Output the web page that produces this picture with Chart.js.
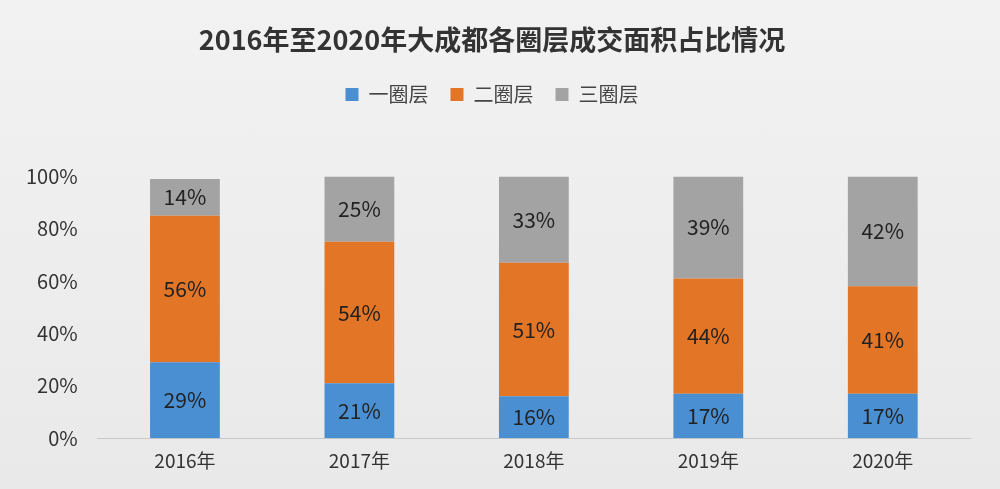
<!DOCTYPE html>
<html>
<head>
<meta charset="utf-8">
<script src="https://cdn.jsdelivr.net/npm/chart.js@4"></script>
<style>
  html, body { margin: 0; padding: 0; }
  body { width: 1000px; height: 489px; background: linear-gradient(#f2f2f2, #e9e9e9); font-family: "Noto Sans CJK SC", sans-serif; }
</style>
</head>
<body>
<canvas id="chart" width="1000" height="489"></canvas>
<script>
// categorias e séries
const anos = ["2016年", "2017年", "2018年", "2019年", "2020年"];
const circulo1 = [29, 21, 16, 17, 17];
const circulo2 = [56, 54, 51, 44, 41];
const circulo3 = [14, 25, 33, 39, 42];
const yTicks = [0, 20, 40, 60, 80, 100];

const cores = ["#4a8fd2", "#e27526", "#a3a3a3"];

// espaço extra abaixo da legenda
const espacoLegenda = {
    id: "espacoLegenda",
    beforeInit(chart) {
        const fitOrig = chart.legend.fit;
        chart.legend.fit = function () {
            fitOrig.bind(chart.legend)();
            this.height += 62;
        };
    }
};

// rótulos dentro das barras
const rotulos = {
    id: "rotulos",
    afterDatasetsDraw(chart) {
        const ctx = chart.ctx;
        ctx.save();
        ctx.font = "21px 'Noto Sans CJK SC', sans-serif";
        ctx.fillStyle = "#222";
        ctx.textAlign = "center";
        ctx.textBaseline = "middle";
        chart.data.datasets.forEach((ds, i) => {
            chart.getDatasetMeta(i).data.forEach((bar, j) => {
                const mid = (bar.y + bar.base) / 2;
                ctx.fillText(ds.data[j] + "%", bar.x, mid);
            });
        });
        ctx.restore();
    }
};

new Chart(document.getElementById("chart"), {
    type: "bar",
    data: {
        labels: anos,
        datasets: [
            { label: "一圈层", data: circulo1, backgroundColor: cores[0] },
            { label: "二圈层", data: circulo2, backgroundColor: cores[1] },
            { label: "三圈层", data: circulo3, backgroundColor: cores[2] }
        ]
    },
    options: {
        responsive: false,
        animation: false,
        devicePixelRatio: 1,
        layout: { padding: { left: 14, right: 30, top: 8, bottom: 14 } },
        barPercentage: 0.8,
        categoryPercentage: 0.5,
        plugins: {
            title: {
                display: true,
                text: "2016年至2020年大成都各圈层成交面积占比情况",
                color: "#333",
                font: { size: 27, weight: "bold", family: "'Noto Sans CJK SC', sans-serif" },
                padding: { top: 16, bottom: 6 }
            },
            legend: {
                position: "top",
                labels: {
                    color: "#444",
                    boxWidth: 13,
                    boxHeight: 13,
                    padding: 22,
                    font: { size: 20, family: "'Noto Sans CJK SC', sans-serif" }
                }
            },
            tooltip: { enabled: false }
        },
        scales: {
            x: {
                stacked: true,
                grid: { display: false },
                border: { color: "#c8c8c8" },
                ticks: { color: "#333", font: { size: 19, family: "'Noto Sans CJK SC', sans-serif" } }
            },
            y: {
                stacked: true,
                min: 0,
                max: 100,
                afterBuildTicks: (axis) => { axis.ticks = yTicks.map(v => ({ value: v })); },
                grid: { display: false },
                border: { display: false },
                ticks: {
                    color: "#333",
                    padding: 12,
                    font: { size: 20, family: "'Noto Sans CJK SC', sans-serif" },
                    callback: (v) => v + "%"
                }
            }
        }
    },
    plugins: [espacoLegenda, rotulos]
});
</script>
</body>
</html>
